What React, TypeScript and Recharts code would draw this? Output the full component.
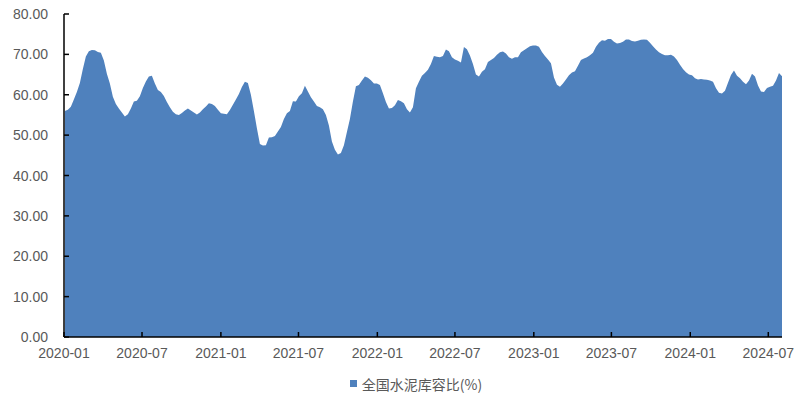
import { Area, AreaChart, Legend, XAxis, YAxis } from "recharts"

const DAY = 86400000
const firstWeek = Date.UTC(2020, 0, 3)

// 全国水泥库容比, weekly, %
const ratio = [
    56, 56.3, 57, 58.8, 60.7, 62.9, 66.4, 69.5, 70.8, 71.1,
    71.0, 70.6, 70.4, 68.5, 65.2, 62.8, 59.5, 57.7, 56.6, 55.6,
    54.6, 55.2, 56.6, 58.3, 58.5, 59.6, 61.7, 63.3, 64.5, 64.7,
    62.8, 61.2, 60.7, 59.7, 58.2, 56.9, 55.8, 55.2, 55, 55.5,
    56.1, 56.6, 56.1, 55.6, 55.1, 55.6, 56.4, 57.1, 57.9, 57.7,
    57.2, 56.3, 55.4, 55.3, 55.2, 56.2, 57.5, 58.8, 60.2, 61.9,
    63.2, 62.9, 60, 56, 51.7, 47.8, 47.4, 47.5, 49.4, 49.5,
    49.8, 50.9, 52, 54, 55.4, 56, 58.4, 58.3, 59.6, 60.4,
    62.2, 60.8, 59.4, 58.3, 57.2, 56.9, 56.4, 55, 52.4, 48.4,
    46.4, 45.2, 45.6, 47.5, 50.8, 54, 58.3, 62.1, 62.4, 63.5,
    64.5, 64.2, 63.6, 62.8, 62.8, 62.4, 60.4, 58.2, 56.6, 56.7,
    57.4, 58.7, 58.4, 57.9, 56.4, 55.6, 56.9, 61.6, 63.2, 64.7,
    65.4, 66.2, 67.6, 69.6, 69.4, 69.3, 69.6, 71.2, 70.8, 69.3,
    68.7, 68.4, 68, 71.8, 71.3, 69.7, 67.6, 65, 64.5, 65.7,
    66.3, 68.1, 68.6, 69.1, 69.9, 70.5, 70.7, 70.2, 69.3, 68.9,
    69.3, 69.3, 70.5, 71, 71.5, 72, 72.2, 72.2, 71.9, 70.6,
    69.6, 68.7, 67.8, 64.3, 62.5, 62, 62.8, 63.8, 64.8, 65.5,
    65.8, 67.2, 68.6, 69, 69.3, 69.8, 70.4, 71.9, 72.9, 73.5,
    73.4, 73.8, 73.8, 73.1, 72.7, 72.8, 73.1, 73.7, 73.7, 73.3,
    73.2, 73.4, 73.6, 73.7, 73.6, 72.9, 72, 71.2, 70.5, 70.1,
    69.8, 69.8, 69.9, 69.5, 68.6, 67.4, 66.4, 65.6, 65, 64.8,
    64.1, 63.8, 63.9, 63.8, 63.7, 63.5, 63.2, 61.6, 60.5, 60.3,
    61, 63, 64.9, 66, 64.7, 64.1, 63.2, 62.6, 63.5, 65.2,
    64.5, 62.3, 60.8, 60.7, 61.7, 62, 62.2, 63.5, 65.4, 64.6,
]

const xTickLabels = [
    "2020-01", "2020-07", "2021-01", "2021-07", "2022-01",
    "2022-07", "2023-01", "2023-07", "2024-01", "2024-07",
]
const yTicks = [0, 10, 20, 30, 40, 50, 60, 70, 80]

const seriesName = "全国水泥库容比(%)"
const blue = "#4F81BD"
const grey = "#595959"

const data = ratio.map((v, i) => ({ date: firstWeek + i * 7 * DAY, ratio: v }))
const xTicks = xTickLabels.map((s) => Date.UTC(Number(s.slice(0, 4)), Number(s.slice(5)) - 1, 1))

function fmtMonth(t: number) {
    const d = new Date(t)
    return d.getUTCFullYear() + "-" + String(d.getUTCMonth() + 1).padStart(2, "0")
}

const XTick = (props: any) => {
    const { x, y, payload } = props
    return (
        <g>
            <line x1={x} x2={x} y1={y - 5} y2={y} stroke="#000" strokeWidth={1.5} />
            <text x={x} y={y + 21} textAnchor="middle" fill={grey} fontSize={14} fontFamily="Liberation Sans, Arial">
                {fmtMonth(payload.value)}
            </text>
        </g>
    )
}

const YTick = (props: any) => {
    const { x, y, payload } = props
    return (
        <g>
            <line x1={x} x2={x + 5} y1={y} y2={y} stroke="#000" strokeWidth={1.5} />
            <text x={x - 16} y={y + 5} textAnchor="end" fill={grey} fontSize={14} fontFamily="Liberation Sans, Arial">
                {Number(payload.value).toFixed(2)}
            </text>
        </g>
    )
}

const LegendBox = () => (
    <div style={{ display: "flex", justifyContent: "center", alignItems: "center", height: 33, paddingLeft: 50 }}>
        <span style={{ width: 7, height: 7, background: blue, display: "inline-block", marginRight: 5 }} />
        <span style={{ color: grey, fontSize: 14, fontFamily: "Noto Sans CJK SC" }}>{seriesName}</span>
    </div>
)

export default function App() {
    return (
        <div style={{ position: "absolute", left: 0, top: 0 }}>
            <AreaChart width={795} height={400} data={data} margin={{ top: 14, right: 13, left: 0, bottom: 0 }}>
                <Area
                    type="linear"
                    dataKey="ratio"
                    name={seriesName}
                    stroke="none"
                    fill={blue}
                    fillOpacity={1}
                    isAnimationActive={false}
                />
                <XAxis
                    dataKey="date"
                    type="number"
                    scale="time"
                    domain={[xTicks[0], data[data.length - 1].date]}
                    ticks={xTicks}
                    tick={<XTick />}
                    tickSize={0}
                    tickMargin={0}
                    height={30}
                    stroke="#000"
                    strokeWidth={1.5}
                    interval={0}
                />
                <YAxis
                    domain={[0, 80]}
                    ticks={yTicks}
                    tick={<YTick />}
                    tickSize={0}
                    tickMargin={0}
                    width={64}
                    stroke="#000"
                    strokeWidth={1.5}
                    interval={0}
                />
                <Legend verticalAlign="bottom" height={33} content={<LegendBox />} />
            </AreaChart>
        </div>
    )
}
